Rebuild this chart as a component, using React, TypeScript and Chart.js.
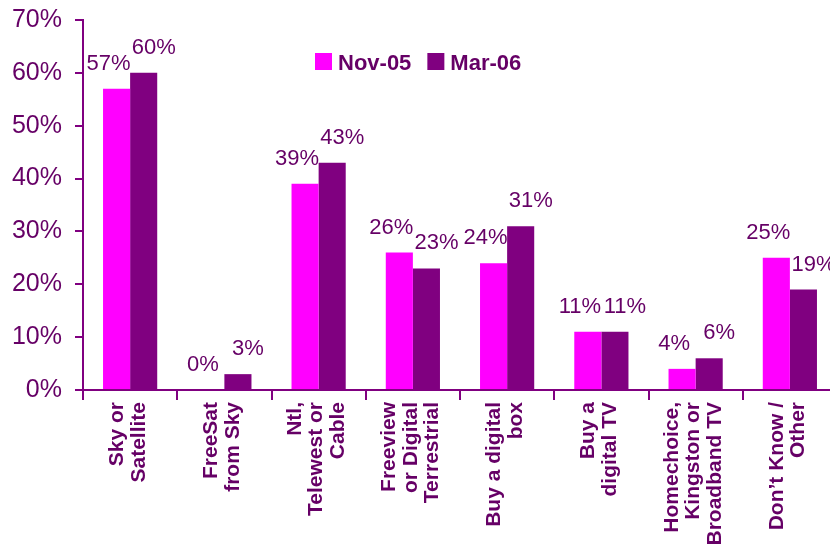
import React, { useEffect, useRef } from "react";
import { Chart, registerables } from "chart.js";

Chart.register(...registerables);

const categories: string[][] = [
  ["Sky or", "Satellite"],
  ["FreeSat", "from Sky"],
  ["Ntl,", "Telewest or", "Cable"],
  ["Freeview", "or Digital", "Terrestrial"],
  ["Buy a digital", "box"],
  ["Buy a", "digital TV"],
  ["Homechoice,", "Kingston or", "Broadband TV"],
  ["Don\u2019t Know /", "Other"],
];
const seriesNames = ["Nov-05", "Mar-06"];
const nov05 = [57, 0, 39, 26, 24, 11, 4, 25];
const mar06 = [60, 3, 43, 23, 31, 11, 6, 19];
const yTicks = [0, 10, 20, 30, 40, 50, 60, 70];

const FONT = "'Liberation Sans', Arial, Helvetica, sans-serif";
const TEXT = "#660066";
const AXIS = "#800080";
const COLORS = ["#FF00FF", "#800080"];

const customPlugin = {
  id: "customDraw",
  afterDatasetsDraw(chart: any) {
    const ctx = chart.ctx as CanvasRenderingContext2D;
    const xs = chart.scales.x;
    const area = chart.chartArea;
    ctx.save();

    // value labels
    ctx.font = `22px ${FONT}`;
    ctx.fillStyle = TEXT;
    ctx.textAlign = "center";
    ctx.textBaseline = "alphabetic";
    const shifts = [-8, 10];
    chart.data.datasets.forEach((ds: any, di: number) => {
      const meta = chart.getDatasetMeta(di);
      meta.data.forEach((bar: any, i: number) => {
        const v = ds.data[i];
        ctx.fillText(v + "%", bar.x + shifts[di], bar.y - 19);
      });
    });

    // category labels (rotated)
    ctx.font = `bold 21px ${FONT}`;
    ctx.textAlign = "right";
    ctx.textBaseline = "middle";
    const lh = 21.5;
    (chart.data.labels as any[]).forEach((lab: any, i: number) => {
      const lines: string[] = Array.isArray(lab) ? lab : [lab];
      const x = xs.getPixelForValue(i) - 2;
      ctx.save();
      ctx.translate(x, xs.top + 12);
      ctx.rotate(-Math.PI / 2);
      lines.forEach((ln, j) => {
        ctx.fillText(ln, 0, (j - (lines.length - 1) / 2) * lh);
      });
      ctx.restore();
    });

    // legend
    ctx.font = `bold 22px ${FONT}`;
    ctx.textAlign = "left";
    ctx.textBaseline = "alphabetic";
    let lx = area.left + 232;
    const ly = area.top + 33;
    chart.data.datasets.forEach((ds: any) => {
      ctx.fillStyle = ds.backgroundColor;
      ctx.fillRect(lx, ly, 17, 17);
      ctx.fillStyle = TEXT;
      ctx.fillText(ds.label, lx + 23, ly + 17);
      lx += 23 + ctx.measureText(ds.label).width + 16;
    });

    ctx.restore();
  },
};

export default function App() {
  const ref = useRef<HTMLCanvasElement | null>(null);
  useEffect(() => {
    if (!ref.current) return;
    const chart = new Chart(ref.current, {
      type: "bar",
      data: {
        labels: categories,
        datasets: [
          { label: seriesNames[0], data: nov05, backgroundColor: COLORS[0], borderWidth: 0 },
          { label: seriesNames[1], data: mar06, backgroundColor: COLORS[1], borderWidth: 0 },
        ],
      },
      options: {
        responsive: false,
        animation: false,
        layout: { padding: { top: 20, left: 0, right: 13, bottom: 0 } },
        datasets: { bar: { categoryPercentage: 0.575, barPercentage: 1 } },
        plugins: { legend: { display: false }, tooltip: { enabled: false } },
        scales: {
          x: {
            grid: {
              offset: true,
              drawOnChartArea: false,
              drawTicks: true,
              tickLength: 10,
              color: AXIS,
              lineWidth: 2,
            },
            border: { color: AXIS, width: 2 },
            ticks: { display: false },
            afterFit: (s: any) => {
              s.height = 156;
              s.paddingLeft = 0;
              s.paddingRight = 0;
            },
          },
          y: {
            min: 0,
            max: 70,
            afterBuildTicks: (s: any) => {
              s.ticks = yTicks.map((v) => ({ value: v }));
            },
            ticks: {
              callback: (v: any) => v + "%",
              font: { size: 25, family: FONT },
              color: TEXT,
              padding: 13,
            },
            grid: { drawOnChartArea: false, tickLength: 8, color: AXIS, lineWidth: 2 },
            border: { color: AXIS, width: 2 },
            afterFit: (s: any) => {
              s.width = 83;
              s.paddingTop = 0;
              s.paddingBottom = 0;
            },
          },
        },
      },
      plugins: [customPlugin],
    });
    return () => chart.destroy();
  }, []);
  return (
    <div
      style={{
        position: "fixed",
        left: 0,
        top: 0,
        width: 830,
        height: 546,
        overflow: "hidden",
        background: "#fff",
      }}
    >
      <canvas ref={ref} width={850} height={546} style={{ display: "block" }} />
    </div>
  );
}
